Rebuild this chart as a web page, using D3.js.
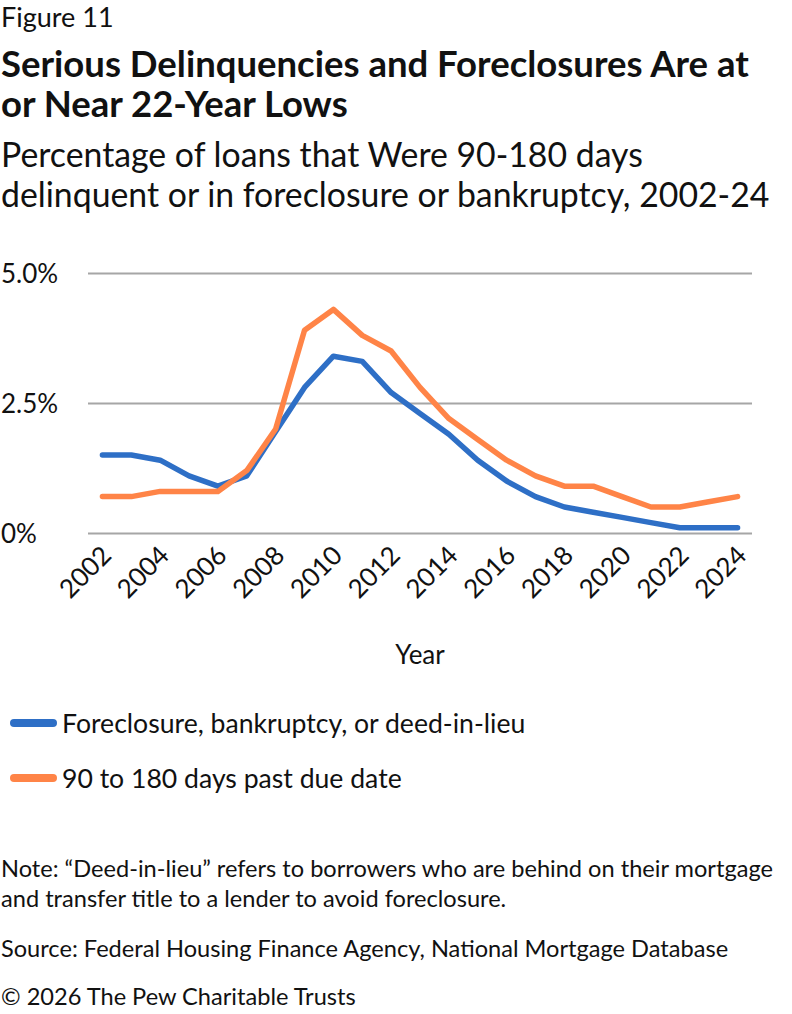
<!DOCTYPE html>
<html>
<head>
<meta charset="utf-8">
<script src="https://cdn.jsdelivr.net/npm/d3@7"></script>
<style>
  body { margin: 0; background: #fff; }
  text { font-family: Lato, "Noto Sans", sans-serif; fill: #111; }
</style>
</head>
<body>
<div id="chart"></div>
<script>
// Data
const years = d3.range(2002, 2025);
const foreclosure = [1.5, 1.5, 1.4, 1.1, 0.9, 1.1, 1.95, 2.8, 3.4, 3.3, 2.7, 2.3, 1.9, 1.4, 1.0, 0.7, 0.5, 0.4, 0.3, 0.2, 0.1, 0.1, 0.1];
const pastDue = [0.7, 0.7, 0.8, 0.8, 0.8, 1.2, 2.0, 3.9, 4.3, 3.8, 3.5, 2.8, 2.2, 1.8, 1.4, 1.1, 0.9, 0.9, 0.7, 0.5, 0.5, 0.6, 0.7];
const yTicks = [0, 2.5, 5];
const yTickLabels = ["0%", "2.5%", "5.0%"];
const xTickYears = d3.range(2002, 2025, 2);
const seriesNames = ["Foreclosure, bankruptcy, or deed-in-lieu", "90 to 180 days past due date"];
const seriesColors = ["#2E6FC6", "#FF8447"];

const W = 792, H = 1014;
const svg = d3.select("#chart").append("svg")
    .attr("width", W)
    .attr("height", H);

// Header
svg.append("text").attr("x", 1).attr("y", 27)
    .style("font-size", "27px").text("Figure 11");
svg.append("text").attr("x", 1).attr("y", 77)
    .style("font-size", "36.5px").style("font-weight", 700)
    .text("Serious Delinquencies and Foreclosures Are at");
svg.append("text").attr("x", 1).attr("y", 117)
    .style("font-size", "36.5px").style("font-weight", 700)
    .text("or Near 22-Year Lows");
svg.append("text").attr("x", 1).attr("y", 167)
    .style("font-size", "33.8px")
    .text("Percentage of loans that Were 90-180 days");
svg.append("text").attr("x", 1).attr("y", 207)
    .style("font-size", "33.8px")
    .text("delinquent or in foreclosure or bankruptcy, 2002-24");

// Plot area
const plot = {left: 88, right: 752, top: 273, bottom: 533};

const x = d3.scalePoint()
    .domain(years)
    .range([plot.left, plot.right])
    .padding(0.5);
const y = d3.scaleLinear()
    .domain([0, 5])
    .range([plot.bottom, plot.top]);

// Gridlines
const yAxis = svg.append("g")
    .attr("transform", `translate(${plot.left},0)`)
    .call(d3.axisLeft(y)
        .tickValues(yTicks)
        .tickSize(-(plot.right - plot.left))
        .tickFormat((d, i) => yTickLabels[i]));
yAxis.select(".domain").remove();
yAxis.selectAll(".tick line").attr("stroke", "#a6a6a6").attr("stroke-width", 2);
yAxis.selectAll(".tick text")
    .attr("text-anchor", "start")
    .attr("x", -plot.left + 1)
    .attr("dy", "0.36em")
    .style("font-size", "26px")
    .style("font-family", "Lato, sans-serif")
    .attr("fill", "#111");

// X axis labels
const xAxis = svg.append("g")
    .attr("transform", `translate(0,${plot.bottom})`)
    .call(d3.axisBottom(x).tickValues(xTickYears).tickSize(0));
xAxis.select(".domain").remove();
xAxis.selectAll(".tick text")
    .attr("text-anchor", "end")
    .attr("dy", 0)
    .attr("y", 0)
    .attr("transform", "translate(10,24) rotate(-45)")
    .style("font-size", "26px")
    .style("font-family", "Lato, sans-serif")
    .attr("fill", "#111");

svg.append("text")
    .attr("x", (plot.left + plot.right) / 2)
    .attr("y", 664)
    .attr("text-anchor", "middle")
    .style("font-size", "26px")
    .text("Year");

// Lines
const line = d3.line()
    .x((d, i) => x(years[i]))
    .y(d => y(d));

[foreclosure, pastDue].forEach((s, k) => {
    svg.append("path")
        .datum(s)
        .attr("fill", "none")
        .attr("stroke", seriesColors[k])
        .attr("stroke-width", 5.5)
        .attr("stroke-linejoin", "round")
        .attr("stroke-linecap", "round")
        .attr("d", line);
});

// Legend
const legend = svg.append("g");
seriesNames.forEach((name, k) => {
    const ly = 723 + k * 55;
    legend.append("line")
        .attr("x1", 14).attr("x2", 53)
        .attr("y1", ly).attr("y2", ly)
        .attr("stroke", seriesColors[k])
        .attr("stroke-width", 8)
        .attr("stroke-linecap", "round");
    legend.append("text")
        .attr("x", 62).attr("y", ly + 10)
        .style("font-size", "26.6px")
        .text(name);
});

// Notes
const notes = [
    ["Note: \u201cDeed-in-lieu\u201d refers to borrowers who are behind on their mortgage", 877],
    ["and transfer title to a lender to avoid foreclosure.", 907],
    ["Source: Federal Housing Finance Agency, National Mortgage Database", 957],
    ["\u00a9 2026 The Pew Charitable Trusts", 1005]
];
notes.forEach(([t, ny]) => {
    svg.append("text").attr("x", 1).attr("y", ny)
        .style("font-size", "23.6px")
        .text(t);
});
</script>
</body>
</html>
